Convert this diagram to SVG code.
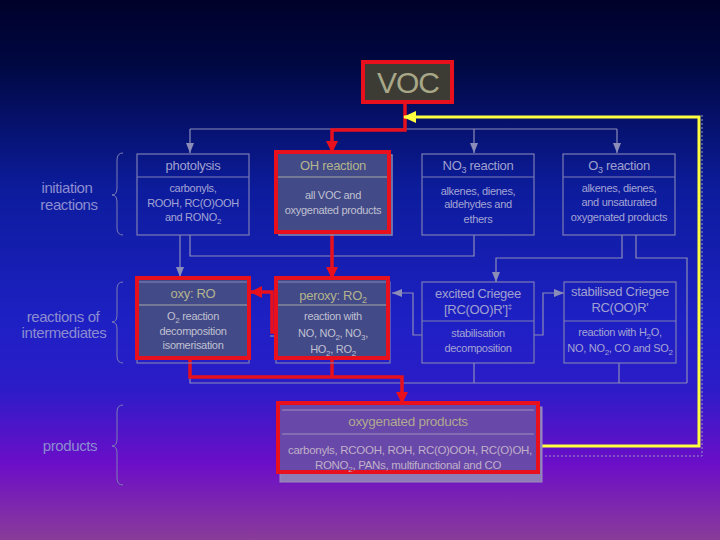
<svg xmlns="http://www.w3.org/2000/svg" width="720" height="540" viewBox="0 0 720 540">
<defs>
<linearGradient id="bg" x1="0" y1="0" x2="0" y2="1">
<stop offset="0" stop-color="#00012a"/>
<stop offset="0.12" stop-color="#000842"/>
<stop offset="0.35" stop-color="#0c1c9c"/>
<stop offset="0.6" stop-color="#1e20c4"/>
<stop offset="0.72" stop-color="#2c1cc8"/>
<stop offset="0.86" stop-color="#6c0ec8"/>
<stop offset="1" stop-color="#8a3c98"/>
</linearGradient>
<marker id="ag" markerUnits="userSpaceOnUse" markerWidth="10" markerHeight="8" refX="10" refY="4" orient="auto"><path d="M0,0 L10,4 L0,8 z" fill="#8c8cb8"/></marker>
<marker id="ar" markerUnits="userSpaceOnUse" markerWidth="12" markerHeight="12" refX="11" refY="6" orient="auto"><path d="M0,0 L12,6 L0,12 z" fill="#e8101c"/></marker>
<marker id="ay" markerUnits="userSpaceOnUse" markerWidth="13" markerHeight="12" refX="12" refY="6" orient="auto"><path d="M0,0 L13,6 L0,12 z" fill="#ffff40"/></marker>
<style>
.g{fill:none;stroke:#8c8cb8;stroke-width:1.2}
.r{fill:none;stroke:#e8101c;stroke-width:3.5}
.y{fill:none;stroke:#ffff40;stroke-width:3}
.box{fill:none;stroke:#7c7cb4;stroke-width:1.2}
.div{stroke:#7c7cb4;stroke-width:1.2}
.hdiv{stroke:#a8a8a8;stroke-width:1.2}
.hl{fill:none;stroke:#e8101c;stroke-width:4}
.slate{fill:#424a88}
text{font-family:"Liberation Sans",Arial,sans-serif;text-anchor:middle}
.t{font-size:13px;fill:#a0a0d0;letter-spacing:-0.3px}
.th{font-size:13px;fill:#b4b48c;letter-spacing:-0.3px}
.b{font-size:11px;fill:#a4a4d4;letter-spacing:-0.3px}
.bh{font-size:11px;fill:#c0c0d0;letter-spacing:-0.3px}
.lab{font-size:15px;fill:#8c8cd0;letter-spacing:-0.4px}
.brace{fill:none;stroke:#7c7cb4;stroke-width:1}
</style>
</defs>
<rect x="0" y="0" width="720" height="540" fill="url(#bg)"/>

<g id="labels">
<text class="lab" x="67" y="193">initiation</text>
<text class="lab" x="69" y="210">reactions</text>
<path class="brace" d="M123,153 Q117,153 117,160 L117,188 Q117,195 112,195 Q117,195 117,202 L117,228 Q117,235 123,235"/>
<text class="lab" x="63" y="322">reactions of</text>
<text class="lab" x="64" y="338">intermediates</text>
<path class="brace" d="M123,282 Q117,282 117,289 L117,315 Q117,322 112,322 Q117,322 117,329 L117,356 Q117,363 123,363"/>
<text class="lab" x="70" y="451">products</text>
<path class="brace" d="M123,405 Q117,405 117,412 L117,439 Q117,446 112,446 Q117,446 117,453 L117,478 Q117,485 123,485"/>
</g>

<g id="connectors">
<path class="g" d="M190,129 H617"/>
<path class="g" d="M190,129 V153" marker-end="url(#ag)"/>
<path class="g" d="M474,129 V153" marker-end="url(#ag)"/>
<path class="g" d="M617,129 V153" marker-end="url(#ag)"/>
<path class="g" d="M180,235 V277" marker-end="url(#ag)"/>
<path class="g" d="M190,235 V256 H474 V235"/>
<path class="g" d="M622,235 V258 H496 V282" marker-end="url(#ag)"/>
<path class="g" d="M636,235 V258 H687 V383"/>
<path class="g" d="M422,335 H413 V293 H392" marker-end="url(#ag)"/>
<path class="g" d="M534,335 H543 V293 H564" marker-end="url(#ag)"/>
<path class="g" d="M190,363 V383 H687"/>
<path class="g" d="M474,363 V383"/>
<path class="g" d="M619,363 V383"/>
<path class="g" d="M270,336 H276"/>
<path fill="none" stroke="#9a9ac0" stroke-width="1" stroke-dasharray="2,2" d="M545,456 H702 V115"/>
<path class="r" d="M405,102 V130 H332 V152" marker-end="url(#ar)"/>
<path class="r" d="M332,232 V278" marker-end="url(#ar)"/>
<path class="r" d="M276,332 H272 V292 H251" marker-end="url(#ar)"/>
<path class="r" d="M332,358 V377"/>
<path class="r" d="M190,358 V377 H402 V403" marker-end="url(#ar)"/>
<path class="y" d="M538,446 H699 V117 H404" marker-end="url(#ay)"/>
</g>

<g id="voc">
<rect x="363" y="62" width="89" height="40" fill="#3c3c34" stroke="#e8101c" stroke-width="4"/>
<text x="408" y="93" font-size="30" fill="#a8a888" letter-spacing="-1">VOC</text>
</g>

<g id="photolysis">
<rect class="box" x="137" y="154" width="112" height="81"/>
<line class="div" x1="137" y1="177" x2="249" y2="177"/>
<text class="t" x="193" y="170">photolysis</text>
<text class="b" x="193" y="192">carbonyls,</text>
<text class="b" x="193" y="207">ROOH, RC(O)OOH</text>
<text class="b" x="193" y="221">and RONO<tspan font-size="8" dy="3">2</tspan></text>
</g>

<g id="oh">
<rect x="279" y="155" width="113" height="80" fill="none" stroke="#8c8cb0" stroke-width="1.5"/>
<rect class="slate" x="276" y="152" width="113" height="80"/>
<line class="hdiv" x1="278" y1="177" x2="387" y2="177"/>
<rect class="hl" x="276" y="152" width="113" height="80"/>
<text class="th" x="333" y="170">OH reaction</text>
<text class="bh" x="333" y="199">all VOC and</text>
<text class="bh" x="333" y="214">oxygenated products</text>
</g>

<g id="no3">
<rect class="box" x="422" y="154" width="112" height="81"/>
<line class="div" x1="422" y1="177" x2="534" y2="177"/>
<text class="t" x="478" y="170">NO<tspan font-size="9" dy="3">3</tspan><tspan dy="-3"> reaction</tspan></text>
<text class="b" x="478" y="195">alkenes, dienes,</text>
<text class="b" x="478" y="208">aldehydes and</text>
<text class="b" x="478" y="223">ethers</text>
</g>

<g id="o3">
<rect class="box" x="563" y="154" width="112" height="81"/>
<line class="div" x1="563" y1="177" x2="675" y2="177"/>
<text class="t" x="619" y="170">O<tspan font-size="9" dy="3">3</tspan><tspan dy="-3"> reaction</tspan></text>
<text class="b" x="619" y="192">alkenes, dienes,</text>
<text class="b" x="619" y="206">and unsaturated</text>
<text class="b" x="619" y="221">oxygenated products</text>
</g>

<g id="oxy">
<rect class="slate" x="137" y="278" width="112" height="80"/>
<rect class="box" x="137" y="282" width="112" height="81"/>
<line class="hdiv" x1="139" y1="305" x2="247" y2="305"/>
<rect class="hl" x="137" y="278" width="112" height="80"/>
<text class="th" x="193" y="298">oxy: RO</text>
<text class="bh" x="193" y="320">O<tspan font-size="8" dy="3">2</tspan><tspan dy="-3"> reaction</tspan></text>
<text class="bh" x="193" y="335">decomposition</text>
<text class="bh" x="193" y="349">isomerisation</text>
</g>

<g id="peroxy">
<rect class="slate" x="276" y="278" width="112" height="80"/>
<rect class="box" x="276" y="282" width="114" height="81"/>
<line class="hdiv" x1="278" y1="305" x2="386" y2="305"/>
<rect class="hl" x="276" y="278" width="112" height="80"/>
<text class="th" x="333" y="300">peroxy: RO<tspan font-size="9" dy="3">2</tspan></text>
<text class="bh" x="333" y="320">reaction with</text>
<text class="bh" x="333" y="337">NO, NO<tspan font-size="8" dy="3">2</tspan><tspan dy="-3">, NO</tspan><tspan font-size="8" dy="3">3</tspan><tspan dy="-3">,</tspan></text>
<text class="bh" x="333" y="353">HO<tspan font-size="8" dy="3">2</tspan><tspan dy="-3">, RO</tspan><tspan font-size="8" dy="3">2</tspan></text>
</g>

<g id="excited">
<rect class="box" x="422" y="282" width="112" height="81"/>
<line class="div" x1="422" y1="321" x2="534" y2="321"/>
<text class="t" x="478" y="298">excited Criegee</text>
<text class="t" x="478" y="314">[RC(OO)R']<tspan font-size="8" dy="-5">‡</tspan></text>
<text class="b" x="478" y="337">stabilisation</text>
<text class="b" x="478" y="352">decomposition</text>
</g>

<g id="stabilised">
<rect class="box" x="564" y="282" width="112" height="81"/>
<line class="div" x1="564" y1="321" x2="676" y2="321"/>
<text class="t" x="620" y="296">stabilised Criegee</text>
<text class="t" x="620" y="312">RC(OO)R'</text>
<text class="b" x="620" y="336">reaction with H<tspan font-size="8" dy="3">2</tspan><tspan dy="-3">O,</tspan></text>
<text class="b" x="620" y="352">NO, NO<tspan font-size="8" dy="3">2</tspan><tspan dy="-3">, CO and SO</tspan><tspan font-size="8" dy="3">2</tspan></text>
</g>

<g id="products">
<rect x="280" y="407" width="262" height="75" fill="#8e7cb8" stroke="#9a8cc0" stroke-width="1"/>
<rect x="278" y="403" width="260" height="69" fill="#6848a8"/>
<line x1="282" y1="410" x2="534" y2="410" stroke="#a090c0" stroke-width="1.2"/>
<line x1="282" y1="434" x2="534" y2="434" stroke="#a090c0" stroke-width="1.2"/>
<rect class="hl" x="278" y="403" width="260" height="69"/>
<text x="408" y="426" font-size="13.5" fill="#b0a890" letter-spacing="-0.3">oxygenated products</text>
<text x="410" y="454" font-size="11.5" fill="#c0b0c8" letter-spacing="-0.3">carbonyls, RCOOH, ROH, RC(O)OOH, RC(O)OH,</text>
<text x="408" y="469" font-size="11.5" fill="#c0b0c8" letter-spacing="-0.3">RONO<tspan font-size="8" dy="3">2</tspan><tspan dy="-3">, PANs, multifunctional and CO</tspan></text>
</g>
</svg>
